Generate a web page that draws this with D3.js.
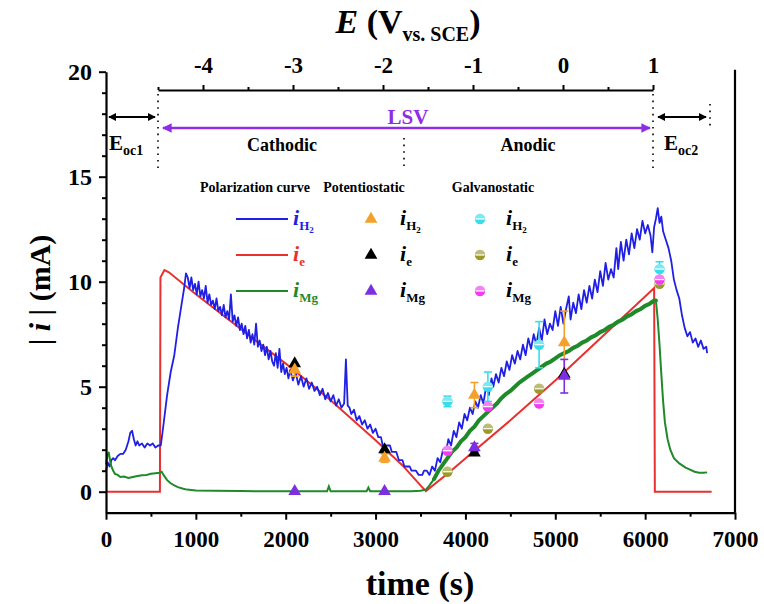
<!DOCTYPE html>
<html>
<head>
<meta charset="utf-8">
<script src="https://cdn.jsdelivr.net/npm/d3@7"></script>
<style>
  html, body { margin: 0; padding: 0; background: #fff; }
  svg text { font-family: "Liberation Serif", "Times New Roman", serif; font-weight: bold; }
</style>
</head>
<body>
<script>
// ---- measured currents (time in s, current in mA) ----
const currentE = [
  [0,0],[600,0],[606,10.2],[650,10.55],[700,10.45],[1000,9.4],[1500,7.75],[2000,6.1],
  [2500,4.35],[3000,2.45],[3300,1.25],[3500,0.3],[3560,0.03],[3800,0.85],[4100,1.95],
  [4500,3.4],[5000,5.3],[5500,7.3],[6000,9.3],[6100,9.7],[6108,0],[6740,0]
];

const currentH2 = [
  [0,1.0],[20,1.4],[40,1.2],[60,1.5],[80,1.6],[100,1.5],[130,1.7],[160,1.8],[190,1.8],[220,2.0],
  [250,2.4],[270,2.8],[290,2.9],[310,2.5],[330,2.2],[350,2.4],[370,2.2],[400,2.3],[430,2.1],
  [460,2.3],[490,2.2],[520,2.3],[550,2.1],[580,2.2],[610,2.2],[640,3.2],[680,4.6],[720,5.7],
  [760,6.5],[800,7.8],[840,8.9],[870,9.7],[890,10.4],[910,10.2],[930,9.7],[950,10.2],[970,9.6],
  [990,9.9],[1010,9.4],[1030,10.0],[1050,9.3],[1070,9.6],[1090,9.2],[1110,9.8],[1130,9.0],
  [1150,9.4],[1170,8.9],[1190,9.1],[1210,8.7],[1230,9.2],[1250,8.6],[1270,8.8],[1290,8.4],
  [1310,8.9],[1330,8.3],[1350,8.6],[1370,8.2],[1390,9.4],[1410,8.1],[1430,8.4],[1450,7.9],
  [1470,8.3],[1490,7.7],[1510,8.0],[1530,7.5],[1550,7.9],[1570,7.3],[1590,7.7],[1610,7.1],
  [1630,7.5],[1650,7.0],[1670,8.0],[1690,6.9],[1710,7.2],[1730,6.7],[1750,7.0],[1770,6.5],
  [1790,6.9],[1810,6.3],[1830,6.7],[1850,6.2],[1870,6.0],[1890,6.6],[1910,5.9],[1930,6.8],
  [1950,5.7],[1970,6.1],[1990,5.6],[2010,5.9],[2030,5.4],[2050,5.8],[2080,5.3],[2110,5.7],
  [2140,5.1],[2170,5.5],[2200,5.0],[2230,5.4],[2260,4.9],[2290,5.2],[2320,4.8],[2350,5.0],
  [2380,4.6],[2410,4.9],[2440,4.4],[2470,4.7],[2500,4.3],[2530,4.6],[2560,4.1],[2590,4.4],
  [2620,4.0],[2650,4.2],[2670,6.3],[2690,4.1],[2710,4.0],[2730,3.7],[2760,3.9],[2790,3.4],
  [2820,3.6],[2850,3.2],[2880,3.4],[2910,3.0],[2940,3.2],[2970,2.8],[3000,3.0],[3030,2.6],
  [3060,2.6],[3080,2.2],[3120,2.2],[3160,2.2],[3180,1.9],[3230,1.9],[3260,1.5],[3300,1.5],
  [3320,1.2],[3380,1.2],[3400,1.0],[3450,1.0],[3480,0.8],[3520,0.8],[3540,1.0],[3570,1.0],
  [3600,0.8],[3630,1.2],[3660,1.0],[3690,1.6],[3720,1.4],[3750,2.0],[3780,1.8],[3810,2.5],
  [3840,2.2],[3870,2.9],[3900,2.6],[3930,3.3],[3960,3.0],[3990,3.7],[4020,3.4],[4050,4.0],
  [4080,3.7],[4110,4.3],[4140,4.0],[4170,4.6],[4200,4.2],[4230,5.0],[4260,4.6],[4290,5.4],
  [4310,5.0],[4340,5.6],[4370,5.2],[4400,5.9],[4430,5.5],[4460,6.2],[4490,5.8],[4520,6.5],
  [4550,6.1],[4580,6.7],[4610,6.3],[4640,7.0],[4670,6.5],[4700,7.3],[4730,6.8],[4760,7.5],
  [4790,7.0],[4820,7.8],[4850,7.2],[4880,8.2],[4910,7.5],[4940,8.0],[4970,7.7],[5000,8.6],
  [5030,7.9],[5060,8.8],[5090,8.0],[5120,8.7],[5150,9.3],[5170,8.2],[5200,9.0],[5230,8.5],
  [5260,9.4],[5290,8.7],[5320,9.6],[5350,9.0],[5380,9.8],[5410,9.2],[5440,10.1],[5470,9.5],
  [5500,10.5],[5530,9.8],[5560,10.9],[5590,10.1],[5620,10.6],[5650,10.2],[5680,11.6],
  [5700,10.6],[5730,11.9],[5760,11.0],[5790,12.0],[5820,11.3],[5850,12.3],[5880,11.6],
  [5910,12.5],[5940,12.0],[5970,12.9],[6000,12.3],[6030,12.7],[6060,12.2],[6080,11.4],
  [6100,12.6],[6120,13.0],[6140,13.5],[6160,12.8],[6180,13.1],[6200,12.4],[6230,12.0],
  [6260,11.6],[6290,11.0],[6320,10.1],[6350,9.6],[6380,9.2],[6410,8.4],[6440,7.8],[6470,7.4],
  [6500,7.6],[6530,7.1],[6560,7.3],[6590,6.9],[6620,7.2],[6650,6.8],[6680,6.9],[6690,6.6]
];

const currentMg = [
  [0,1.3],[15,1.7],[30,1.9],[45,1.5],[60,1.2],[80,1.0],[100,0.85],[130,0.8],[160,0.7],
  [200,0.72],[250,0.65],[300,0.7],[350,0.75],[400,0.78],[450,0.8],[500,0.85],[550,0.88],
  [600,0.9],[620,0.95],[640,0.8],[680,0.55],[720,0.4],[760,0.3],[800,0.22],[850,0.15],
  [900,0.1],[1000,0.06],[1200,0.04],[1500,0.03],[2000,0.02],[2460,0.02],[2480,0.25],
  [2500,0.02],[2900,0.02],[2920,0.2],[2940,0.02],[3400,0.02],[3500,0.05],[3560,0.1],
  [3600,0.3],[3650,0.6],[3700,1.0],[3750,1.3],[3800,1.6],[3850,1.9],[3900,2.1],[3950,2.4],
  [4000,2.6],[4050,2.9],[4100,3.1],[4150,3.4],[4200,3.6],[4250,3.8],[4300,4.0],[4350,4.2],
  [4400,4.45],[4450,4.65],[4500,4.8],[4550,5.0],[4600,5.2],[4650,5.35],[4700,5.5],[4750,5.65],
  [4800,5.8],[4850,5.95],[4900,6.1],[4950,6.2],[5000,6.35],[5050,6.5],[5100,6.6],[5150,6.7],
  [5200,6.85],[5250,6.95],[5300,7.1],[5350,7.2],[5400,7.35],[5450,7.45],[5500,7.6],[5550,7.7],
  [5600,7.85],[5650,7.95],[5700,8.1],[5750,8.2],[5800,8.35],[5850,8.45],[5900,8.6],[5950,8.7],
  [6000,8.85],[6050,8.95],[6100,9.1],[6120,9.1],[6140,8.2],[6160,7.0],[6180,5.6],[6200,4.3],
  [6220,3.3],[6250,2.5],[6280,2.0],[6320,1.6],[6380,1.35],[6450,1.15],[6500,1.05],[6550,0.95],
  [6600,0.9],[6650,0.9],[6690,0.92]
];

// potentiostatic holds (triangles)
const potTimes  = [2100, 3100, 4100, 5100];
const potH2     = [5.8, 1.6, 4.6, 7.1];
const potH2Err  = [0.3, 0.2, 0.6, 1.5];
const potE      = [6.1, 2.0, 1.85, 5.6];
const potMg     = [0.02, 0.02, 2.1, 5.5];
const potMgErr  = [0, 0, 0.2, 0.8];

// galvanostatic holds (half-filled circles)
const galvTimes = [3800, 4250, 4820, 6160];
const galvH2    = [4.3, 5.0, 7.0, 10.6];
const galvH2Err = [0.25, 0.7, 1.1, 0.35];
const galvE     = [0.95, 3.0, 4.9, 9.9];
const galvMg    = [1.95, 4.05, 4.2, 10.1];

const timeTicks = [0, 1000, 2000, 3000, 4000, 5000, 6000, 7000];
const currentTicks = [0, 5, 10, 15, 20];
const potentialTicks = [-4, -3, -2, -1, 0, 1];

const colors = {
  h2: "#1f1fe6", e: "#e8302e", mg: "#1f8a2a",
  potH2: "#f5a02a", potE: "#000000", potMg: "#7b2fe0",
  galvH2: "#38dceb", galvE: "#9a9a2a", galvMg: "#f23cf0",
  lsv: "#8d2de6"
};

const W = 764, H = 604;
const svg = d3.select("body").append("svg").attr("width", W).attr("height", H);

const x = d3.scaleLinear().domain([0, 7000]).range([106, 735]);
const y = d3.scaleLinear().domain([-1, 20]).range([512.7, 71.7]);
const eScale = d3.scaleLinear().domain([-4.5, 1]).range([158, 653]);

// ---- curves ----
const line = d3.line().x(d => x(d[0])).y(d => y(d[1]));
svg.append("path").datum(currentE).attr("d", line)
  .attr("fill", "none").attr("stroke", colors.e).attr("stroke-width", 2);
svg.append("path").datum(currentH2).attr("d", line)
  .attr("fill", "none").attr("stroke", colors.h2).attr("stroke-width", 1.8).attr("stroke-linejoin", "round");
svg.append("path").datum(currentMg).attr("d", line)
  .attr("fill", "none").attr("stroke", colors.mg).attr("stroke-width", 2);
// the anodic Mg trace is noisier, drawn as a wider band
svg.append("path").datum(currentMg.filter(d => d[0] >= 3650 && d[0] <= 6120)).attr("d", line)
  .attr("fill", "none").attr("stroke", colors.mg).attr("stroke-width", 4).attr("stroke-linecap", "round");

// ---- markers ----
const tri = d3.symbol().type(d3.symbolTriangle).size(70);
function errorBar(t, v, err, color) {
  if (!err) return;
  const g = svg.append("g").attr("stroke", color).attr("stroke-width", 1.6);
  const cx = x(t);
  g.append("line").attr("x1", cx).attr("x2", cx).attr("y1", y(v - err)).attr("y2", y(v + err));
  [v - err, v + err].forEach(b => g.append("line")
    .attr("x1", cx - 4).attr("x2", cx + 4).attr("y1", y(b)).attr("y2", y(b)));
}
function triangle(px, py, color) {
  svg.append("path").attr("d", tri).attr("transform", `translate(${px},${py})`).attr("fill", color);
}
function halfCircle(px, py, color) {
  const g = svg.append("g").attr("transform", `translate(${px},${py})`);
  g.append("circle").attr("r", 5.2).attr("fill", color);
  g.append("path").attr("d", "M-5.2,0 A5.2,5.2 0 0 1 5.2,0 Z").attr("fill", "#fff").attr("opacity", 0.35);
  g.append("line").attr("x1", -4.6).attr("x2", 4.6).attr("y1", 0).attr("y2", 0)
    .attr("stroke", "#fff").attr("stroke-width", 1.2);
}

potTimes.forEach((t, i) => {
  errorBar(t, potH2[i], potH2Err[i], colors.potH2);
  errorBar(t, potMg[i], potMgErr[i], colors.potMg);
});
galvTimes.forEach((t, i) => errorBar(t, galvH2[i], galvH2Err[i], colors.galvH2));
potTimes.forEach((t, i) => {
  triangle(x(t), y(potE[i]), colors.potE);
  triangle(x(t), y(potH2[i]), colors.potH2);
  triangle(x(t), y(potMg[i]), colors.potMg);
});
galvTimes.forEach((t, i) => {
  halfCircle(x(t), y(galvE[i]), colors.galvE);
  halfCircle(x(t), y(galvH2[i]), colors.galvH2);
  halfCircle(x(t), y(galvMg[i]), colors.galvMg);
});

// ---- axes ----
const tickFont = g => g.selectAll("text").attr("font-family", "Liberation Serif")
  .attr("font-weight", "bold").attr("fill", "#000");

const gx = svg.append("g").attr("transform", `translate(0,${y(-1)})`)
  .call(d3.axisBottom(x).tickValues(timeTicks).tickFormat(d => String(d))
    .tickSize(7).tickPadding(11).tickSizeOuter(0));
gx.selectAll("text").attr("font-size", 23);
svg.append("g").attr("transform", `translate(0,${y(-1)})`)
  .call(d3.axisBottom(x).tickValues(d3.range(500, 7000, 1000)).tickSize(4).tickFormat(""))
  .select(".domain").remove();

const gy = svg.append("g").attr("transform", `translate(${x(0)},0)`)
  .call(d3.axisLeft(y).tickValues(currentTicks).tickFormat(d => String(d))
    .tickSize(7).tickPadding(7).tickSizeOuter(0));
gy.selectAll("text").attr("font-size", 24);
svg.append("g").attr("transform", `translate(${x(0)},0)`)
  .call(d3.axisLeft(y).tickValues(d3.range(1, 20).filter(v => v % 5 !== 0)).tickSize(4).tickFormat(""))
  .select(".domain").remove();

const gt = svg.append("g").attr("transform", "translate(0,90)")
  .call(d3.axisTop(eScale).tickValues(potentialTicks).tickFormat(d => String(d))
    .tickSize(5).tickPadding(12).tickSizeOuter(0));
gt.selectAll("text").attr("font-size", 23);
svg.append("g").attr("transform", "translate(0,90)")
  .call(d3.axisTop(eScale).tickValues([-4.5, -3.5, -2.5, -1.5, -0.5, 0.5]).tickSize(3).tickFormat(""))
  .select(".domain").remove();

[gx, gy, gt].forEach(g => {
  tickFont(g);
  g.select(".domain").attr("stroke-width", 2.2);
});
svg.selectAll(".tick line").attr("stroke-width", 2);

// right frame edge
svg.append("line").attr("x1", x(7000)).attr("x2", x(7000)).attr("y1", y(20) - 2).attr("y2", y(-1))
  .attr("stroke", "#000").attr("stroke-width", 2.2);

// ---- axis titles ----
svg.append("text").attr("x", 420).attr("y", 595).attr("text-anchor", "middle")
  .attr("font-size", 34).text("time (s)");

const yt = svg.append("text").attr("transform", "translate(50,290) rotate(-90)")
  .attr("text-anchor", "middle").attr("font-size", 30);
yt.append("tspan").text("| ");
yt.append("tspan").attr("font-style", "italic").text("i");
yt.append("tspan").text(" | (mA)");

const et = svg.append("text").attr("x", 408).attr("y", 33).attr("text-anchor", "middle").attr("font-size", 34);
et.append("tspan").attr("font-style", "italic").text("E");
et.append("tspan").text(" (V");
et.append("tspan").attr("font-size", 20).attr("dy", 8).text("vs. SCE");
et.append("tspan").attr("dy", -8).text(")");

// ---- region annotations ----
const defs = svg.append("defs");
function arrowHead(id, color) {
  defs.append("marker").attr("id", id).attr("viewBox", "0 0 10 10").attr("refX", 9).attr("refY", 5)
    .attr("markerWidth", 4).attr("markerHeight", 4).attr("orient", "auto-start-reverse")
    .append("path").attr("d", "M0,0 L10,5 L0,10 Z").attr("fill", color);
}
arrowHead("headBlack", "#000");
arrowHead("headLsv", colors.lsv);

function dotted(t, y1, y2) {
  svg.append("line").attr("x1", x(t)).attr("x2", x(t)).attr("y1", y1).attr("y2", y2)
    .attr("stroke", "#000").attr("stroke-width", 1.6).attr("stroke-dasharray", "1.6,5");
}
const tStart = x.invert(eScale(-4.5)), tEnd = x.invert(eScale(1));
const tDivide = x.invert(404), tOc2 = x.invert(710);
dotted(tStart, 94, 168);
dotted(tEnd, 94, 168);
dotted(tDivide, 138, 168);
dotted(tOc2, 104, 130);

function dblArrow(x1, x2, yy, color, id, w) {
  svg.append("line").attr("x1", x1).attr("x2", x2).attr("y1", yy).attr("y2", yy)
    .attr("stroke", color).attr("stroke-width", w)
    .attr("marker-start", `url(#${id})`).attr("marker-end", `url(#${id})`);
}
dblArrow(x(0) + 3, x(tStart) - 3, 117, "#000", "headBlack", 2);
dblArrow(x(tEnd) + 5, x(tOc2) - 4, 117, "#000", "headBlack", 2);
dblArrow(x(tStart) + 5, x(tEnd) - 3, 128, colors.lsv, "headLsv", 2.4);

svg.append("text").attr("x", 408).attr("y", 124).attr("text-anchor", "middle")
  .attr("font-size", 21).attr("fill", colors.lsv).text("LSV");
svg.append("text").attr("x", 282).attr("y", 151).attr("text-anchor", "middle")
  .attr("font-size", 18).text("Cathodic");
svg.append("text").attr("x", 528).attr("y", 151).attr("text-anchor", "middle")
  .attr("font-size", 18).text("Anodic");

function eoc(px, sub) {
  const t = svg.append("text").attr("x", px).attr("y", 150).attr("font-size", 21);
  t.append("tspan").text("E");
  t.append("tspan").attr("font-size", 14).attr("dy", 5).text(sub);
}
eoc(109, "oc1");
eoc(664, "oc2");

// ---- legend ----
const headers = [["Polarization curve", 255], ["Potentiostatic", 364], ["Galvanostatic", 493]];
headers.forEach(([txt, cx]) => svg.append("text").attr("x", cx).attr("y", 192)
  .attr("text-anchor", "middle").attr("font-size", 14).text(txt));

const rows = [219, 255, 291];
const subs = [["H", "2"], ["e", null], ["Mg", null]];
function label(px, py, k, color) {
  const t = svg.append("text").attr("x", px).attr("y", py + 6).attr("font-size", 22).attr("fill", color);
  t.append("tspan").attr("font-style", "italic").text("i");
  t.append("tspan").attr("font-size", 13).attr("dy", 5).text(subs[k][0]);
  if (subs[k][1]) t.append("tspan").attr("font-size", 9).attr("dy", 3).text(subs[k][1]);
}
const lineColors = [colors.h2, colors.e, colors.mg];
const potColors = [colors.potH2, colors.potE, colors.potMg];
const galvColors = [colors.galvH2, colors.galvE, colors.galvMg];
rows.forEach((ry, k) => {
  svg.append("line").attr("x1", 236).attr("x2", 288).attr("y1", ry).attr("y2", ry)
    .attr("stroke", lineColors[k]).attr("stroke-width", 2);
  label(293, ry, k, lineColors[k]);
  triangle(371, ry, potColors[k]);
  label(400, ry, k, "#000");
  halfCircle(480, ry, galvColors[k]);
  label(506, ry, k, "#000");
});
</script>
</body>
</html>
